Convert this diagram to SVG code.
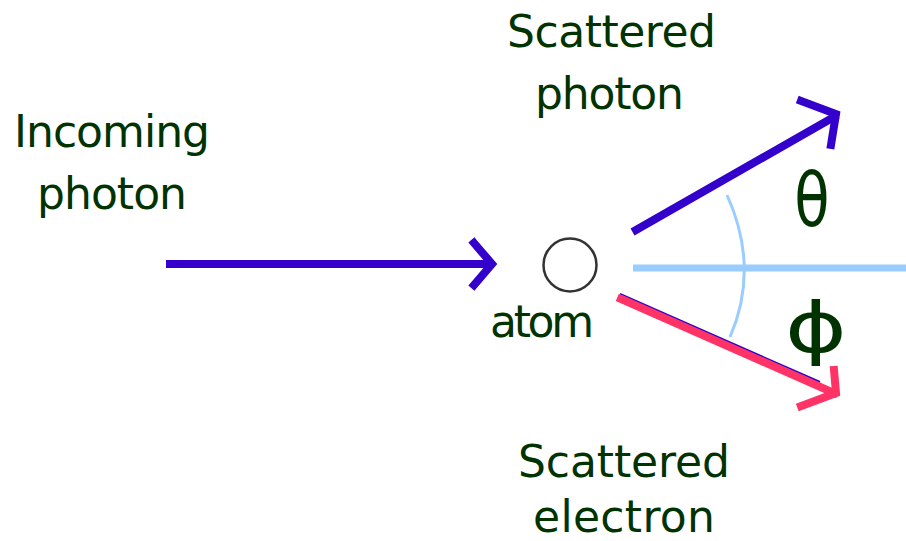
<svg xmlns="http://www.w3.org/2000/svg" width="906" height="541" viewBox="0 0 906 541">
<style>
.lbl{font-family:"DejaVu Sans","Liberation Sans",sans-serif;font-size:44px;fill:#003300}
.sym{font-family:"DejaVu Sans","Liberation Sans",sans-serif;fill:#003300}
.ph{stroke:#3300cc;stroke-width:8;fill:none;stroke-linecap:square}
.el{stroke:#ff3366;stroke-width:8;fill:none;stroke-linecap:square}
.ax{stroke:#99ccff;fill:none}
</style>
<rect width="906" height="541" fill="#ffffff"/>
<g id="connectors">
<g id="incoming-arrow">
<line class="ph" x1="170" y1="264" x2="490" y2="264"/>
<polyline class="ph" points="474,243 492,264 474,285"/>
</g>
<g id="axis">
<line class="ax" stroke-width="7" x1="633" y1="268" x2="906" y2="268"/>
<path class="ax" stroke-width="3" d="M727,195 Q760,268 730,337"/>
</g>
<g id="scattered-photon-arrow">
<line class="ph" x1="636" y1="230" x2="834" y2="117"/>
<polyline class="ph" points="801,101 836,114 831,145"/>
</g>
<g id="scattered-electron-arrow">
<line stroke="#3300cc" stroke-width="2" x1="620" y1="294" x2="820" y2="382"/>
<line class="el" x1="621" y1="299" x2="834" y2="393"/>
<polyline class="el" points="834,370 836,393 801,406"/>
</g>
</g>
<g id="atom">
<circle cx="570" cy="265" r="26.5" fill="none" stroke="#333333" stroke-width="2.5"/>
<text class="lbl" x="490" y="337" textLength="104" lengthAdjust="spacing">atom</text>
</g>
<g id="incoming-photon-label">
<text class="lbl" x="14" y="147" textLength="196" lengthAdjust="spacing">Incoming</text>
<text class="lbl" x="37" y="209" textLength="150" lengthAdjust="spacing">photon</text>
</g>
<g id="scattered-photon-label">
<text class="lbl" x="507" y="47" textLength="209" lengthAdjust="spacing">Scattered</text>
<text class="lbl" x="535" y="109" textLength="149" lengthAdjust="spacing">photon</text>
</g>
<g id="scattered-electron-label">
<text class="lbl" x="518" y="477" textLength="212" lengthAdjust="spacing">Scattered</text>
<text class="lbl" x="533" y="532" textLength="182" lengthAdjust="spacing">electron</text>
</g>
<g id="theta">
<text class="sym" transform="translate(812,226) scale(0.78,1)" font-size="74" text-anchor="middle">θ</text>
</g>
<g id="phi">
<text class="sym" transform="translate(816,352) scale(1.35,1)" font-size="70" text-anchor="middle">ϕ</text>
</g>
</svg>
